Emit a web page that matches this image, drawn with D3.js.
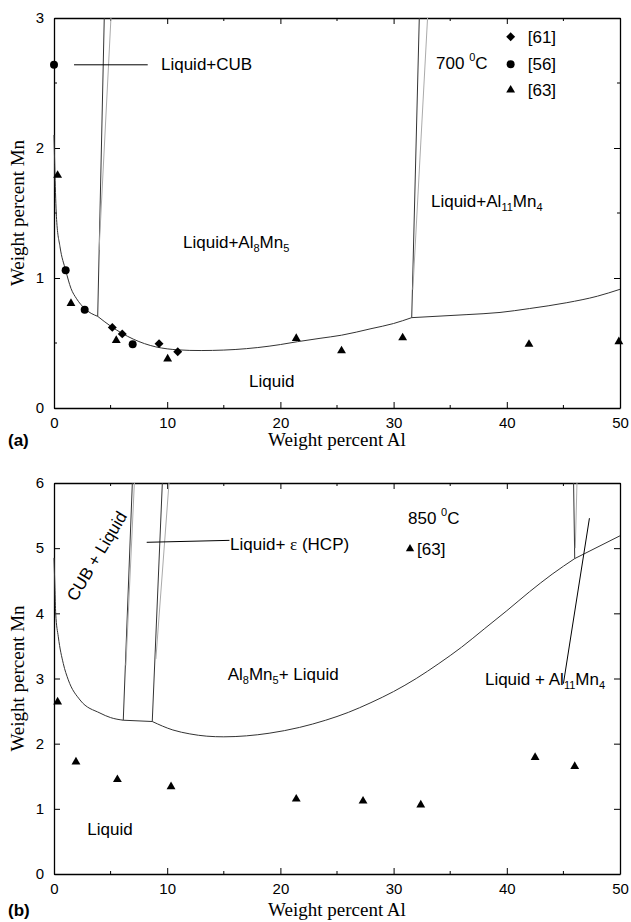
<!DOCTYPE html>
<html><head><meta charset="utf-8">
<script src="https://cdn.jsdelivr.net/npm/d3@7"></script>
<style>body{margin:0;background:#fff}</style>
</head><body>
<script>
// ---------------- data ----------------
const xTickLabels = [0, 10, 20, 30, 40, 50];
const xMinorTicks = [5, 15, 25, 35, 45];
const yTicksA = [0, 1, 2, 3];
const yMinorA = [0.5, 1.5, 2.5];
const yTicksB = [0, 1, 2, 3, 4, 5, 6];

// Panel (a) 700 °C
const a_ref61 = [[5.15,0.62],[6.03,0.57],[9.28,0.495],[10.93,0.433]];
const a_ref56 = [[0,2.64],[1.03,1.06],[2.71,0.756],[6.95,0.49]];
const a_ref63 = [[0.32,1.79],[1.5,0.805],[5.5,0.52],[10.04,0.377],[21.4,0.536],[25.4,0.44],[30.8,0.54],[41.96,0.49],[49.9,0.51]];
const a_liqCub = [[0,2.1],[0.1,1.75],[0.23,1.45],[0.53,1.24],[1.03,1.06],[1.5,0.92],[2,0.84],[2.71,0.765],[3.86,0.705]];
const a_liqAl8 = [[3.86,0.705],[5,0.63],[6,0.575],[7,0.53],[8,0.495],[9,0.47],[10,0.455],[11,0.447],[12,0.443],[13,0.442],[14,0.443],[16,0.45],[18,0.465],[20,0.488],[21.5,0.51],[23.5,0.536],[25.4,0.56],[28,0.61],[30,0.65],[31.6,0.695]];
const a_liqAl11 = [[31.6,0.695],[36.4,0.718],[39.4,0.735],[42,0.765],[45.3,0.81],[48,0.86],[50,0.913]];
const a_al8Dark = [[4.44,3],[3.86,0.705]];
const a_al8Gray = [[5.03,3],[3.98,1.215]];
const a_al11Dark = [[32.27,3],[31.6,0.695]];
const a_al11Gray = [[33.0,3],[31.7,0.91]];
const a_cubLeader = [[1.77,2.64],[8.28,2.64]];

// Panel (b) 850 °C
const b_ref63 = [[0.32,2.64],[1.94,1.72],[5.6,1.45],[10.34,1.34],[21.4,1.15],[27.3,1.12],[32.4,1.06],[42.5,1.79],[46.0,1.65]];
const b_liqCub = [[0,4.85],[0.08,4.4],[0.15,4.0],[0.38,3.64],[0.82,3.23],[1.26,2.98],[2.3,2.67],[4.06,2.47],[5,2.4],[6.12,2.36]];
const b_liqHcp = [[6.12,2.36],[8.68,2.34]];
const b_liqAl8 = [[8.68,2.34],[10.5,2.21],[12,2.15],[13.5,2.115],[15,2.105],[17,2.12],[19,2.16],[21.7,2.25],[24,2.36],[26,2.48],[28,2.63],[30,2.8],[32,3.0],[34,3.23],[36,3.48],[38,3.76],[40,4.04],[42,4.33],[44,4.6],[46,4.84]];
const b_liqAl11 = [[46,4.84],[50,5.19]];
const b_cubDark = [[6.92,6],[6.12,2.36]];
const b_cubGray = [[7.1,6],[6.35,3.2]];
const b_hcpDark = [[9.57,6],[8.68,2.34]];
const b_hcpGray = [[10.16,6],[9.0,3.3]];
const b_al11Dark = [[45.9,6],[46.0,4.84]];
const b_al11Gray = [[46.2,6],[46.05,5.0]];
const b_hcpLeader = [[8.19,5.09],[15.5,5.12]];
const b_al11Leader = [[47.3,5.46],[45.0,2.92]];

// ---------------- drawing ----------------
const W = 631, H = 922;
const svg = d3.select("body").append("svg").attr("width", W).attr("height", H);
const SANS = "'Liberation Sans', Arial, sans-serif";
const SERIF = "'Liberation Serif', 'Times New Roman', serif";
const diamond = d3.symbol().type(d3.symbolSquare).size(40);

function panel(cfg) {
  const x = d3.scaleLinear().domain([0, 50]).range([54, 620]);
  const y = d3.scaleLinear().domain(cfg.yDomain).range([cfg.bottom, cfg.top]);
  const g = svg.append("g");

  // axes (ticks inward, mirrored)
  const axB = d3.axisBottom(x).tickValues(xTickLabels).tickSize(-6).tickPadding(9).tickSizeOuter(0).tickFormat(d3.format("d"));
  const axT = d3.axisTop(x).tickValues(xTickLabels).tickSize(-6).tickFormat("").tickSizeOuter(0);
  const axL = d3.axisLeft(y).tickValues(cfg.yTicks).tickSize(-6).tickPadding(10).tickSizeOuter(0).tickFormat(d3.format("d"));
  const axR = d3.axisRight(y).tickValues(cfg.yTicks).tickSize(-6).tickFormat("").tickSizeOuter(0);
  const style = sel => {
    sel.select(".domain").attr("stroke", "#000").attr("stroke-width", 1.3);
    sel.selectAll(".tick line").attr("stroke", "#000").attr("stroke-width", 1);
    sel.selectAll(".tick text").attr("font-family", SANS).attr("font-size", 15).attr("fill", "#000");
  };
  g.append("g").attr("transform", `translate(0,${cfg.bottom})`).call(axB).call(style);
  g.append("g").attr("transform", `translate(0,${cfg.top})`).call(axT).call(style);
  g.append("g").attr("transform", `translate(54,0)`).call(axL).call(style);
  g.append("g").attr("transform", `translate(620,0)`).call(axR).call(style);
  // minor ticks
  const minor = g.append("g").attr("stroke", "#000").attr("stroke-width", 1);
  xMinorTicks.forEach(v => {
    minor.append("line").attr("x1", x(v)).attr("x2", x(v)).attr("y1", cfg.bottom).attr("y2", cfg.bottom - 3);
    minor.append("line").attr("x1", x(v)).attr("x2", x(v)).attr("y1", cfg.top).attr("y2", cfg.top + 3);
  });
  (cfg.yMinor || []).forEach(v => {
    minor.append("line").attr("x1", 54).attr("x2", 57).attr("y1", y(v)).attr("y2", y(v));
    minor.append("line").attr("x1", 620).attr("x2", 617).attr("y1", y(v)).attr("y2", y(v));
  });

  // curves
  const smooth = d3.line().x(d => x(d[0])).y(d => y(d[1])).curve(d3.curveMonotoneX);
  const straight = d3.line().x(d => x(d[0])).y(d => y(d[1]));
  cfg.curves.forEach(c => g.append("path").attr("d", smooth(c)).attr("fill", "none").attr("stroke", "#333").attr("stroke-width", 1));
  cfg.darkLines.forEach(c => g.append("path").attr("d", straight(c)).attr("fill", "none").attr("stroke", "#333").attr("stroke-width", 1));
  cfg.grayLines.forEach(c => g.append("path").attr("d", straight(c)).attr("fill", "none").attr("stroke", "#aaa").attr("stroke-width", 1));
  cfg.leaders.forEach(c => g.append("path").attr("d", straight(c)).attr("fill", "none").attr("stroke", "#000").attr("stroke-width", 1));

  // markers
  cfg.markers.forEach(m => {
    g.selectAll(null).data(m.data).enter().append("path")
      .attr("d", m.gen())
      .attr("transform", d => `translate(${x(d[0])},${y(d[1])})` + (m.rot ? ` rotate(${m.rot})` : ""))
      .attr("fill", "#000");
  });

  // axis titles
  g.append("text").attr("x", 337).attr("y", cfg.bottom + cfg.xTitleGap).attr("text-anchor", "middle")
    .attr("font-family", SERIF).attr("font-size", 19).text("Weight percent Al");
  g.append("text").attr("transform", `translate(24,${(cfg.top + cfg.bottom) / 2}) rotate(-90)`).attr("text-anchor", "middle")
    .attr("font-family", SERIF).attr("font-size", 19).text("Weight percent Mn");
  g.append("text").attr("x", 8).attr("y", cfg.bottom + cfg.xTitleGap).attr("font-family", SANS)
    .attr("font-weight", "bold").attr("font-size", 17).text(cfg.tag);
  return { g, x, y };
}

function label(g, px, py, parts, size, extra) {
  const t = g.append("text").attr("x", px).attr("y", py).attr("font-family", SANS).attr("font-size", size || 17).attr("fill", "#000");
  if (extra) extra(t);
  parts.forEach(p => {
    const s = t.append("tspan").text(p.t);
    if (p.sub) s.attr("font-size", 11).attr("dy", 4);
    else if (p.sup) s.attr("font-size", 11).attr("dy", -8);
    if (p.after) s.attr("dy", p.after);
    if (p.font) s.attr("font-family", p.font);
  });
  return t;
}

const triA = d3.symbol().type(d3.symbolTriangle).size(34);
const circ = d3.symbol().type(d3.symbolCircle).size(50);

// ---- panel (a)
const A = panel({
  yDomain: [0, 3], top: 18, bottom: 408, yTicks: yTicksA, yMinor: yMinorA, xTitleGap: 38, tag: "(a)",
  curves: [a_liqCub, a_liqAl8, a_liqAl11],
  darkLines: [a_al8Dark, a_al11Dark], grayLines: [a_al8Gray, a_al11Gray], leaders: [a_cubLeader],
  markers: [
    { data: a_ref61, gen: diamond, rot: 45 },
    { data: a_ref56, gen: circ },
    { data: a_ref63, gen: triA }
  ]
});
label(A.g, A.x(9.45), A.y(2.6), [{t: "Liquid+CUB"}]);
label(A.g, A.x(33.75), A.y(2.61), [{t: "700 "}, {t: "0", sup: true}, {t: "C", after: 8}]);
[[diamond, 45, 2.856, "[61]"], [circ, 0, 2.644, "[56]"], [triA, 0, 2.446, "[63]"]].forEach(([gen, rot, yv, txt]) => {
  A.g.append("path").attr("d", gen()).attr("transform", `translate(${A.x(40.34)},${A.y(yv)}) rotate(${rot})`).attr("fill", "#000");
  label(A.g, A.x(41.85), A.y(yv) + 6, [{t: txt}]);
});
label(A.g, A.x(33.3), A.y(1.546), [{t: "Liquid+Al"}, {t: "11", sub: true}, {t: "Mn", after: -4}, {t: "4", sub: true}]);
label(A.g, A.x(11.4), A.y(1.23), [{t: "Liquid+Al"}, {t: "8", sub: true}, {t: "Mn", after: -4}, {t: "5", sub: true}]);
label(A.g, A.x(17.23), A.y(0.164), [{t: "Liquid"}]);

// ---- panel (b)
const B = panel({
  yDomain: [0, 6], top: 483, bottom: 874, yTicks: yTicksB, yMinor: [], xTitleGap: 42, tag: "(b)",
  curves: [b_liqCub, b_liqHcp, b_liqAl8, b_liqAl11],
  darkLines: [b_cubDark, b_hcpDark, b_al11Dark], grayLines: [b_cubGray, b_hcpGray, b_al11Gray],
  leaders: [b_hcpLeader, b_al11Leader],
  markers: [{ data: b_ref63, gen: triA }]
});
label(B.g, 0, 0, [{t: "CUB + Liquid"}], 17, t => t.attr("text-anchor", "middle").attr("dominant-baseline", "central")
  .attr("transform", `translate(${B.x(3.77)},${B.y(4.88)}) rotate(-59)`));
label(B.g, B.x(15.55), B.y(4.97), [{t: "Liquid+ "}, {t: "ε", font: SERIF}, {t: " (HCP)"}]);
label(B.g, B.x(31.27), B.y(5.37), [{t: "850 "}, {t: "0", sup: true}, {t: "C", after: 8}]);
B.g.append("path").attr("d", d3.symbol().type(d3.symbolTriangle).size(30)()).attr("transform", `translate(${B.x(31.45)},${B.y(4.99)})`).attr("fill", "#000");
label(B.g, B.x(32.07), B.y(4.9), [{t: "[63]"}]);
label(B.g, B.x(15.34), B.y(2.98), [{t: "Al"}, {t: "8", sub: true}, {t: "Mn", after: -4}, {t: "5", sub: true}, {t: "+ Liquid", after: -4}]);
label(B.g, B.x(38.07), B.y(2.9), [{t: "Liquid + Al"}, {t: "11", sub: true}, {t: "Mn", after: -4}, {t: "4", sub: true}]);
label(B.g, B.x(2.94), B.y(0.6), [{t: "Liquid"}]);
</script>
</body></html>
